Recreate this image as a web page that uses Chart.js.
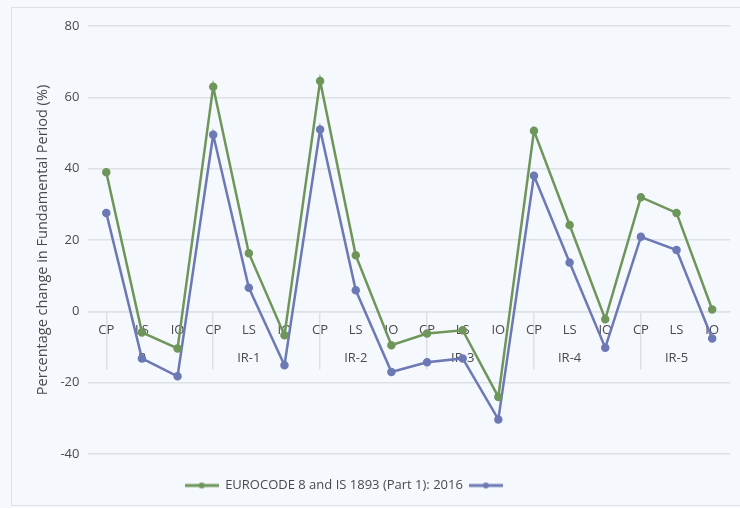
<!DOCTYPE html>
<html>
<head>
<meta charset="utf-8">
<script src="https://cdn.jsdelivr.net/npm/chart.js@4"></script>
<style>
  html, body { margin: 0; padding: 0; background: #f5f8fc; }
  #wrap { position: relative; width: 740px; height: 508px; }
  #frame { position: absolute; left: 11px; top: 7px; width: 740px; height: 499px; border: 1px solid #dcdfe3; box-sizing: border-box; }
  canvas { position: absolute; left: 0; top: 0; }
</style>
</head>
<body>
<div id="wrap">
  <div id="frame"></div>
  <canvas id="myChart" width="740" height="508"></canvas>
</div>
<script>
// performance levels repeated for every frame type
const levels = ['CP', 'LS', 'IO'];
const groups = ['R', 'IR-1', 'IR-2', 'IR-3', 'IR-4', 'IR-5'];

// % change in fundamental period
const eurocodeIS = [39, -5.9, -10.4, 63, 16.3, -6.7, 64.6, 15.7, -9.5, -6.2, -5.3, -24, 50.6, 24.2, -2.2, 32, 27.6, 0.5];
const secondSeries = [27.6, -13.2, -18.2, 49.5, 6.6, -15.1, 51, 5.9, -17, -14.3, -13.2, -30.3, 38, 13.7, -10.2, 20.9, 17.2, -7.6];

const yTicks = [-40, -20, 0, 20, 40, 60, 80];

const green = '#6e965a';
const blue = '#6c79b5';
const font = 'Open Sans';
const textColor = '#4a4a4a';

// two-line tick labels: level on top, frame name under the middle level
let chartLabels = [];
for (let g of groups) {
	for (let i = 0; i < levels.length; i++) {
		chartLabels.push([levels[i], i === 1 ? g : '']);
	}
}

// legend swatch: short line with a dot in the middle
function swatch(color) {
	let c = document.createElement('canvas');
	c.width = 34; c.height = 8;
	let x = c.getContext('2d');
	x.strokeStyle = color; x.lineWidth = 3;
	x.beginPath(); x.moveTo(0, 4); x.lineTo(34, 4); x.stroke();
	x.fillStyle = color;
	x.beginPath(); x.arc(17, 4, 3, 0, Math.PI * 2); x.fill();
	return c;
}

// nudge the legend a bit left and down from where the layout puts it
const shiftLegend = {
	id: 'shiftLegend',
	afterLayout(chart) {
		let l = chart.legend;
		l.left -= 35; l.right -= 35;
		l.top += 19; l.bottom += 19;
	}
};

var ctx = document.getElementById('myChart').getContext('2d');
var myChart = new Chart(ctx, {
	type: 'line',
	data: {
		labels: chartLabels,
		datasets: [{
			label: 'EUROCODE 8 and IS 1893 (Part 1): 2016',
			data: eurocodeIS,
			borderColor: green,
			backgroundColor: green,
			borderWidth: 2.5,
			pointRadius: 3,
			lineTension: 0,
			fill: false
		},
		{
			label: '',
			data: secondSeries,
			borderColor: blue,
			backgroundColor: blue,
			borderWidth: 2.5,
			pointRadius: 3,
			lineTension: 0,
			fill: false
		}]
	},
	options: {
		responsive: false,
		animation: false,
		layout: { padding: { left: 34, right: 10, top: 26, bottom: 25 } },
		scales: {
			y: {
				min: -40,
				max: 80,
				afterBuildTicks(scale) { scale.ticks = yTicks.map(v => ({ value: v })); },
				grid: { color: '#dde1e6', lineWidth: 1.5, drawTicks: false },
				border: { display: false },
				ticks: { color: textColor, padding: 9, font: { family: font, size: 13 } },
				title: {
					display: true,
					text: 'Percentage change in Fundamental Period (%)',
					color: textColor,
					font: { family: font, size: 14.5 },
					padding: { top: 0, bottom: 0 }
				}
			},
			x: {
				position: { y: 0 },
				offset: true,
				grid: {
					drawOnChartArea: false,
					tickLength: 57,
					lineWidth: 1.5,
					color: c => (c.index === undefined || c.index % 3 === 0) ? '#dde1e6' : 'rgba(0,0,0,0)'
				},
				border: { display: true, color: '#dde1e6', width: 1.5 },
				ticks: {
					color: textColor,
					maxRotation: 0,
					autoSkip: false,
					padding: -52,
					font: { family: font, size: 13, lineHeight: 2.15 }
				}
			}
		},
		plugins: {
			legend: {
				position: 'bottom',
				labels: {
					usePointStyle: true,
					pointStyleWidth: 34,
					color: textColor,
					padding: 6,
					font: { family: font, size: 13 },
					generateLabels(chart) {
						let items = Chart.defaults.plugins.legend.labels.generateLabels(chart);
						for (let item of items) {
							item.pointStyle = swatch(chart.data.datasets[item.datasetIndex].borderColor);
						}
						return items;
					}
				}
			},
			tooltip: { enabled: false }
		}
	},
	plugins: [shiftLegend]
});
</script>
</body>
</html>
